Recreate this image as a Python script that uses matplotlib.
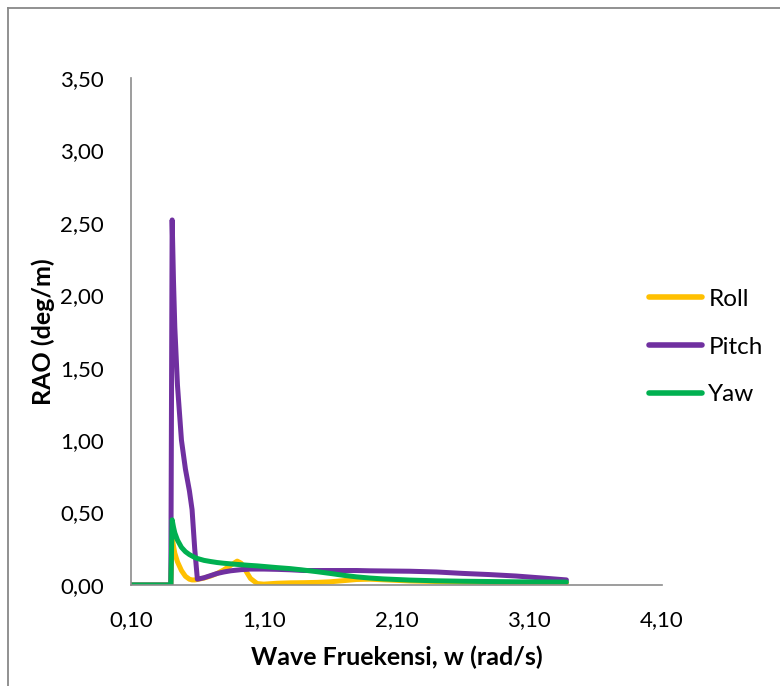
import matplotlib
matplotlib.use("Agg")
import matplotlib.pyplot as plt
from matplotlib.lines import Line2D
from matplotlib.ticker import FuncFormatter

# Wave frequency (rad/s) and RAO responses (deg/m)
freq = [0.10, 0.40, 0.41, 0.42, 0.43, 0.45, 0.48, 0.51, 0.54, 0.56, 0.58, 0.60,
        0.65, 0.70, 0.75, 0.80, 0.85, 0.90, 0.93, 0.97, 1.00, 1.05, 1.10, 1.20,
        1.30, 1.40, 1.50, 1.60, 1.70, 1.80, 1.90, 2.00, 2.20, 2.40, 2.60, 2.80,
        3.00, 3.20, 3.38]

roll = [0.0, 0.0, 0.33, 0.27, 0.22, 0.16, 0.10, 0.06, 0.04, 0.035, 0.035, 0.038,
        0.048, 0.062, 0.08, 0.105, 0.135, 0.165, 0.15, 0.09, 0.045, 0.01, 0.006, 0.012,
        0.015, 0.016, 0.018, 0.022, 0.03, 0.038, 0.04, 0.036, 0.028, 0.024, 0.02, 0.018,
        0.016, 0.014, 0.012]

pitch = [0.0, 0.0, 2.52, 2.10, 1.78, 1.38, 1.00, 0.80, 0.65, 0.52, 0.25, 0.04,
         0.05, 0.065, 0.08, 0.09, 0.098, 0.103, 0.106, 0.108, 0.11, 0.11, 0.11, 0.108,
         0.105, 0.10, 0.10, 0.10, 0.10, 0.10, 0.098, 0.097, 0.095, 0.09, 0.08, 0.072,
         0.062, 0.048, 0.035]

yaw = [0.0, 0.0, 0.45, 0.40, 0.36, 0.31, 0.26, 0.23, 0.21, 0.20, 0.19, 0.183,
       0.17, 0.162, 0.155, 0.15, 0.146, 0.142, 0.14, 0.137, 0.135, 0.132, 0.128, 0.12,
       0.113, 0.103, 0.092, 0.08, 0.067, 0.056, 0.048, 0.042, 0.034, 0.029, 0.026, 0.024,
       0.022, 0.021, 0.02]

series_names = ["Roll", "Pitch", "Yaw"]
series_colors = ["#FFC000", "#7030A0", "#00B050"]

x_ticks = [0.10, 1.10, 2.10, 3.10, 4.10]
y_ticks = [0.0, 0.5, 1.0, 1.5, 2.0, 2.5, 3.0, 3.5]

plt.rcParams["font.family"] = ["Lato", "DejaVu Sans"]

W, H = 780, 686
fig = plt.figure(figsize=(W / 100, H / 100), dpi=100)
ax = fig.add_axes([131 / W, 1 - 585 / H, (662 - 131) / W, (585 - 78) / H])

for name, vals, col in zip(series_names, [roll, pitch, yaw], series_colors):
    ax.plot(freq, vals, color=col, lw=3.6, label=name,
            solid_capstyle="round", solid_joinstyle="round")

ax.set_xlim(0.10, 4.10)
ax.set_ylim(0.0, 3.5)
ax.set_xticks(x_ticks)
ax.set_yticks(y_ticks)
comma = FuncFormatter(lambda v, p: f"{v:.2f}".replace(".", ","))
ax.xaxis.set_major_formatter(comma)
ax.yaxis.set_major_formatter(comma)
ax.tick_params(length=0, labelsize=16, colors="#000000")
ax.tick_params(axis="y", pad=19.5)
ax.tick_params(axis="x", pad=18)

for s in ["top", "right"]:
    ax.spines[s].set_visible(False)
for s in ["left", "bottom"]:
    ax.spines[s].set_color("#8c8c8c")
    ax.spines[s].set_linewidth(1.2)

ax.set_xlabel("Wave Fruekensi, w (rad/s)", fontsize=18, fontweight="bold", labelpad=11)
ax.set_ylabel("RAO (deg/m)", fontsize=18, fontweight="bold", labelpad=4)

leg = fig.legend(loc="center left", bbox_to_anchor=(627 / W, 1 - 347 / H),
                 frameon=False, fontsize=17.5, handlelength=2.2,
                 handletextpad=0.25, labelspacing=1.1)
for h in leg.get_lines():
    h.set_linewidth(4)
    h.set_solid_capstyle("round")

# outer chart border (left and top edges)
x0 = 7.5 / W
y0 = 1 - 7.5 / H
fig.add_artist(Line2D([x0, x0], [0, y0], color="#888888", lw=1.3, transform=fig.transFigure))
fig.add_artist(Line2D([x0, 1], [y0, y0], color="#888888", lw=1.3, transform=fig.transFigure))

fig.savefig("out.png", dpi=100)
